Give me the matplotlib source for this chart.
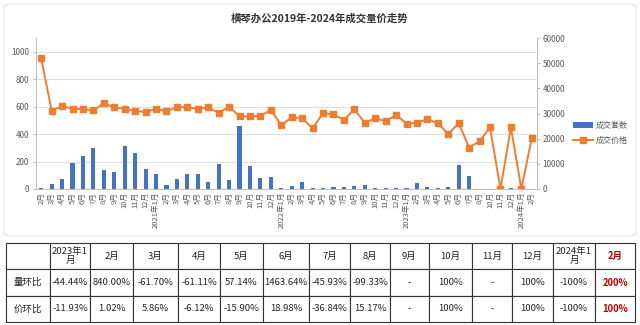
import matplotlib
matplotlib.use("Agg")
import matplotlib.pyplot as plt
from matplotlib.patches import FancyBboxPatch

plt.rcParams["font.family"] = ["Noto Sans CJK SC", "DejaVu Sans"]

# monthly deals, Feb 2020 .. Feb 2024 (Sep 2023 has no record)
months = (
    ["2月", "3月", "4月", "5月", "6月", "7月", "8月", "9月", "10月", "11月", "12月"]
    + ["2021年1月", "2月", "3月", "4月", "5月", "6月", "7月", "8月", "9月", "10月", "11月", "12月"]
    + ["2022年1月", "2月", "3月", "4月", "5月", "6月", "7月", "8月", "9月", "10月", "11月", "12月"]
    + ["2023年1月", "2月", "3月", "4月", "5月", "6月", "7月", "8月", "10月", "11月", "12月"]
    + ["2024年1月", "2月"]
)
volume = [
    5, 36, 70, 190, 243, 301, 139, 124, 314, 263, 146,
    107, 29, 73, 107, 107, 53, 182, 63, 462, 170, 80, 85,
    9, 22, 51, 7, 8, 15, 12, 24, 31, 6, 5, 9,
    5, 47, 18, 7, 11, 172, 93, 1, 0, 0, 8,
    0, 0,
]
price = [
    51860, 31070, 32940, 31870, 31750, 31220, 34130, 32410, 31870, 31070, 30560,
    31870, 30950, 32540, 32540, 31750, 32410, 30290, 32670, 28840, 28840, 29100, 31350,
    25400, 28440, 28170, 24080, 30160, 29630, 27380, 31750, 26190, 28170, 26850, 29500,
    25980, 26245, 27783, 26083, 21936, 26099, 16484, 18985, 24480, 0, 24480,
    0, 20240,
]

# month-on-month table
table_cols = ["2023年1\n月", "2月", "3月", "4月", "5月", "6月", "7月", "8月", "9月",
              "10月", "11月", "12月", "2024年1\n月", "2月"]
vol_change = ["-44.44%", "840.00%", "-61.70%", "-61.11%", "57.14%", "1463.64%", "-45.93%",
              "-99.33%", "-", "100%", "-", "100%", "-100%", "200%"]
price_change = ["-11.93%", "1.02%", "5.86%", "-6.12%", "-15.90%", "18.98%", "-36.84%",
                "15.17%", "-", "100%", "-", "100%", "-100%", "100%"]

blue = "#4472C4"
orange = "#ED7D31"
grey_text = "#595959"
grid_col = "#d9d9d9"

fig = plt.figure(figsize=(6.4, 3.25), dpi=100)
fig.patch.set_facecolor("white")

# light frame around the chart part
frame = FancyBboxPatch((4 / 640, 1 - 236 / 325), 632 / 640, 232 / 325,
                       boxstyle="round,pad=0,rounding_size=0.01",
                       transform=fig.transFigure, facecolor="none",
                       edgecolor="#e3e3e3", linewidth=0.8)
fig.patches.append(frame)

ax = fig.add_axes([36 / 640, 1 - 189 / 325, 501 / 640, 151 / 325])
ax2 = ax.twinx()

x = list(range(len(months)))
bars = ax.bar(x, volume, width=0.4, color=blue, label="成交套数", zorder=2)
line, = ax2.plot(x, price, color=orange, linewidth=1.4, marker="s", markersize=4.8,
                 label="成交价格")

ax.set_xlim(-0.5, len(months) - 0.5)
ax.set_ylim(0, 1100)
ax.set_yticks([0, 200, 400, 600, 800, 1000])
ax2.set_ylim(0, 60000)
ax2.set_yticks([0, 10000, 20000, 30000, 40000, 50000, 60000])

ax.set_xticks(x)
ax.set_xticklabels(months, rotation=90, fontsize=5.5, color=grey_text)
ax.tick_params(axis="x", length=0, pad=2)
ax.tick_params(axis="y", labelsize=5.8, colors=grey_text, length=2, color="#bfbfbf", pad=3)
ax2.tick_params(axis="y", labelsize=5.8, colors=grey_text, length=2, color="#bfbfbf", pad=2)

ax.yaxis.grid(True, color=grid_col, linewidth=0.6)
ax.set_axisbelow(True)
for a in (ax, ax2):
    a.spines["top"].set_visible(False)
    for side in ("left", "right", "bottom"):
        a.spines[side].set_color("#bfbfbf")
        a.spines[side].set_linewidth(0.7)

fig.text(0.5, 1 - 19 / 325, "横琴办公2019年-2024年成交量价走势", ha="center", va="center",
         fontsize=7.5, fontweight="bold", color="#333333")

fig.legend([bars, line], ["成交套数", "成交价格"], loc="center left",
           bbox_to_anchor=(566 / 640, 1 - 133 / 325), frameon=False, fontsize=5.8,
           handlelength=2.5, labelspacing=0.8, handletextpad=0.3, labelcolor=grey_text)

# table under the chart
tab_ax = fig.add_axes([6 / 640, 1 - 322 / 325, 629 / 640, 79 / 325])
tab_ax.axis("off")
cell_text = [table_cols, vol_change, price_change]
row_labels = ["", "量环比", "价环比"]
cells = [[row_labels[i]] + cell_text[i] for i in range(3)]
widths = [44, 40, 43, 45, 42, 43, 46, 41, 40, 39, 43, 40, 41, 42, 40]
total = sum(widths)
tbl = tab_ax.table(cellText=cells, cellLoc="center", bbox=[0, 0, 1, 1],
                   colWidths=[w / total for w in widths])
tbl.auto_set_font_size(False)
for (r, c), cell in tbl.get_celld().items():
    cell.set_edgecolor("#333333")
    cell.set_linewidth(0.8)
    txt = cell.get_text()
    txt.set_fontsize(6.8)
    txt.set_color("#222222")
    if r == 0:
        txt.set_linespacing(0.95)
    if c == len(widths) - 1:
        txt.set_color("#C00000")
        txt.set_fontweight("bold")

fig.savefig("out.png", dpi=100, facecolor="white")
